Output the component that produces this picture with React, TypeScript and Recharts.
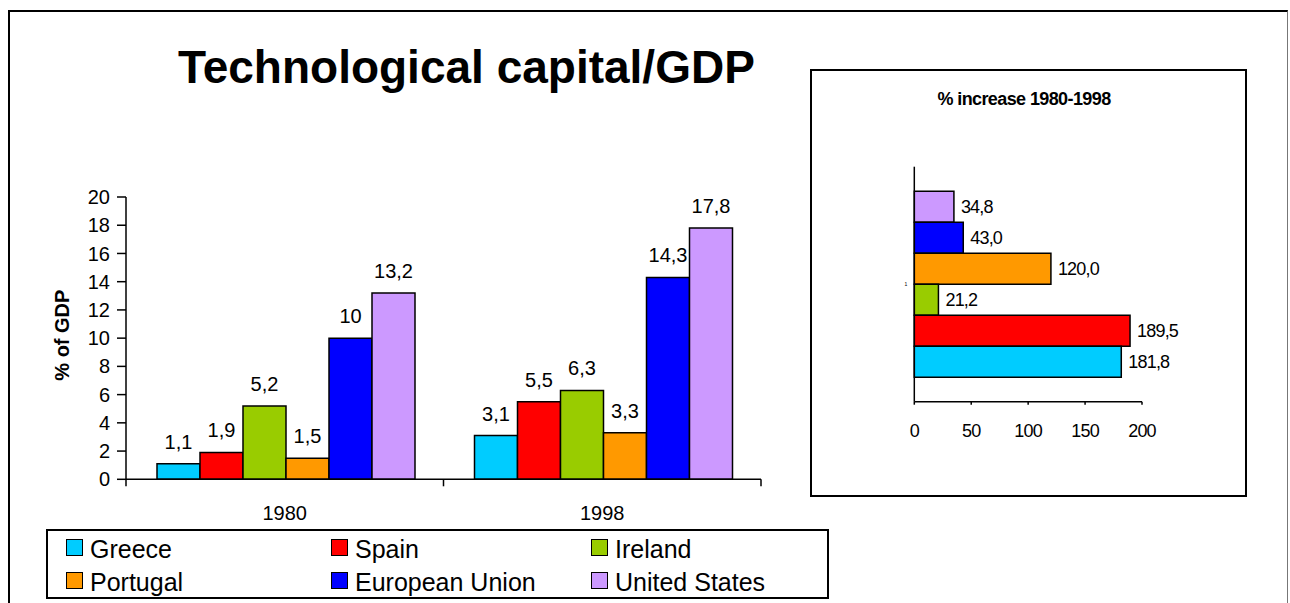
import React from "react";
import { BarChart, Bar, XAxis, YAxis, LabelList, Legend } from "recharts";

// Technological capital as % of GDP, by country and year
const years = ["1980", "1998"];
const greece = [1.1, 3.1];
const spain = [1.9, 5.5];
const ireland = [5.2, 6.3];
const portugal = [1.5, 3.3];
const europeanUnion = [10, 14.3];
const unitedStates = [13.2, 17.8];

// % increase 1980-1998 (as printed in the small panel)
const increaseGreece = 181.8;
const increaseSpain = 189.5;
const increaseIreland = 21.2;
const increasePortugal = 120.0;
const increaseEU = 43.0;
const increaseUS = 34.8;

const yTicks = [0, 2, 4, 6, 8, 10, 12, 14, 16, 18, 20];
const increaseTicks = [0, 50, 100, 150, 200];

const seriesNames = ["Greece", "Spain", "Ireland", "Portugal", "European Union", "United States"];
const seriesKeys = ["greece", "spain", "ireland", "portugal", "eu", "us"] as const;

const COLORS = {
  greece: "#00CCFF",
  spain: "#FF0000",
  ireland: "#99CC00",
  portugal: "#FF9900",
  eu: "#0000FF",
  us: "#CC99FF",
};

const FONT = "'Liberation Sans', Arial, Helvetica, sans-serif";

const mainData = years.map((year, i) => ({
  year,
  greece: greece[i],
  spain: spain[i],
  ireland: ireland[i],
  portugal: portugal[i],
  eu: europeanUnion[i],
  us: unitedStates[i],
}));

const increaseData = [
  {
    cat: "1",
    us: increaseUS,
    eu: increaseEU,
    portugal: increasePortugal,
    ireland: increaseIreland,
    spain: increaseSpain,
    greece: increaseGreece,
  },
];

const MAIN_W = 800;
const MAIN_H = 453;
const MAIN_MARGIN = { top: 47, right: 39, bottom: 83.7, left: 40 };
const Y_AXIS_W = 86;
const HALF_BAND =
  (MAIN_W - MAIN_MARGIN.left - Y_AXIS_W - MAIN_MARGIN.right) / years.length / 2;

const comma = (v: any) => String(v).replace(".", ",");
const comma1 = (v: any) => Number(v).toFixed(1).replace(".", ",");

// category ticks sit between the groups, the year label in the middle
function YearTick({ x, y, payload, index }: any) {
  const last = index === years.length - 1;
  return (
    <g>
      <line x1={x - HALF_BAND} x2={x - HALF_BAND} y1={y} y2={y + 7} stroke="#000" strokeWidth={1.5} />
      {last && (
        <line x1={x + HALF_BAND} x2={x + HALF_BAND} y1={y} y2={y + 7} stroke="#000" strokeWidth={1.5} />
      )}
      <text x={x} y={y + 41} textAnchor="middle" fontSize={20} fontFamily={FONT} fill="#000">
        {payload.value}
      </text>
    </g>
  );
}

function LegendBox({ payload }: any) {
  // keep the series order, not the alphabetical one
  const items = [...(payload || [])].sort(
    (a: any, b: any) => seriesNames.indexOf(a.value) - seriesNames.indexOf(b.value)
  );
  return (
    <div
      style={{
        width: 783,
        height: 70,
        boxSizing: "border-box",
        border: "2px solid #000",
        background: "#fff",
        display: "grid",
        gridTemplateColumns: "265px 260px 220px",
        gridAutoRows: "33px",
        paddingLeft: 18,
        fontFamily: FONT,
        fontSize: 25,
        color: "#000",
      }}
    >
      {items.map((entry: any) => (
        <div key={entry.value} style={{ display: "flex", alignItems: "center" }}>
          <span
            style={{
              display: "inline-block",
              width: 17,
              height: 17,
              boxSizing: "border-box",
              border: "1.5px solid #000",
              background: entry.color,
              marginRight: 7,
            }}
          />
          <span style={{ position: "relative", top: 2, whiteSpace: "nowrap" }}>{entry.value}</span>
        </div>
      ))}
    </div>
  );
}

function MainChart() {
  return (
    <BarChart
      width={MAIN_W}
      height={MAIN_H}
      data={mainData}
      margin={MAIN_MARGIN}
      barCategoryGap={31}
      barGap={0}
    >
      <XAxis
        dataKey="year"
        height={40}
        tickLine={false}
        tickSize={0}
        tickMargin={0}
        axisLine={{ stroke: "#000", strokeWidth: 1.5 }}
        tick={<YearTick />}
        interval={0}
      />
      <YAxis
        width={Y_AXIS_W}
        domain={[0, 20]}
        ticks={yTicks}
        interval={0}
        tickSize={9}
        tickMargin={7}
        axisLine={{ stroke: "#000", strokeWidth: 1.5 }}
        tickLine={{ stroke: "#000", strokeWidth: 1.5 }}
        tick={{ fontSize: 20, fill: "#000", fontFamily: FONT }}
        label={{
          content: (p: any) => {
            const vb = p.viewBox || { x: 0, y: 0, width: 0, height: 0 };
            const cx = vb.x + 22;
            const cy = vb.y + vb.height / 2 - 3;
            return (
              <text
                x={cx}
                y={cy}
                transform={`rotate(-90 ${cx} ${cy})`}
                textAnchor="middle"
                dominantBaseline="central"
                fontSize={20}
                fontWeight="bold"
                fontFamily={FONT}
                fill="#000"
              >
                % of GDP
              </text>
            );
          },
        }}
      />
      <Legend
        layout="horizontal"
        verticalAlign="middle"
        align="center"
        wrapperStyle={{ left: 46, top: 379, width: 783 }}
        content={<LegendBox />}
      />
      {seriesKeys.map((k, i) => (
        <Bar
          key={k}
          dataKey={k}
          name={seriesNames[i]}
          fill={COLORS[k]}
          stroke="#000"
          strokeWidth={1.5}
          isAnimationActive={false}
        >
          <LabelList
            dataKey={k}
            position="top"
            offset={15}
            formatter={comma}
            style={{ fontSize: 20, fill: "#000", fontFamily: FONT }}
          />
        </Bar>
      ))}
    </BarChart>
  );
}

function IncreaseChart() {
  // top-to-bottom order of the horizontal bars
  const order = ["us", "eu", "portugal", "ireland", "spain", "greece"] as const;
  return (
    <BarChart
      width={437}
      height={428}
      layout="vertical"
      data={increaseData}
      margin={{ top: 97.7, right: 105, bottom: 55.3, left: 94.3 }}
      barCategoryGap={24.5}
      barGap={0}
    >
      <XAxis
        type="number"
        domain={[0, 200]}
        ticks={increaseTicks}
        interval={0}
        height={40}
        tickSize={3}
        tickMargin={20}
        axisLine={{ stroke: "#000", strokeWidth: 1.5 }}
        tickLine={{ stroke: "#000", strokeWidth: 1.5 }}
        tick={{ fontSize: 18, fill: "#000", fontFamily: FONT, letterSpacing: -0.8 }}
      />
      <YAxis
        type="category"
        dataKey="cat"
        width={10}
        tickLine={false}
        tickMargin={1}
        axisLine={{ stroke: "#000", strokeWidth: 1.5 }}
        tick={{ fontSize: 5, fill: "#000", fontFamily: FONT }}
      />
      {order.map((k) => (
        <Bar
          key={k}
          dataKey={k}
          fill={COLORS[k]}
          stroke="#000"
          strokeWidth={1.5}
          isAnimationActive={false}
        >
          <LabelList
            dataKey={k}
            position="right"
            offset={7}
            formatter={comma1}
            style={{ fontSize: 18, fill: "#000", fontFamily: FONT, letterSpacing: -0.8 }}
          />
        </Bar>
      ))}
    </BarChart>
  );
}

export default function App() {
  return (
    <div
      style={{
        position: "absolute",
        left: 0,
        top: 0,
        width: 1290,
        height: 603,
        overflow: "hidden",
        background: "#fff",
        fontFamily: FONT,
      }}
    >
      {/* outer frame, open at the bottom */}
      <div
        style={{
          position: "absolute",
          left: 8,
          top: 10,
          width: 1280,
          height: 610,
          boxSizing: "border-box",
          borderTop: "2px solid #000",
          borderLeft: "2px solid #000",
          borderRight: "1.5px solid #777",
        }}
      />
      <div
        style={{
          position: "absolute",
          left: 178,
          top: 44,
          fontSize: 46,
          lineHeight: "46px",
          fontWeight: "bold",
          whiteSpace: "nowrap",
          color: "#000",
        }}
      >
        Technological capital/GDP
      </div>
      <div style={{ position: "absolute", left: 0, top: 150 }}>
        <MainChart />
      </div>
      <div
        style={{
          position: "absolute",
          left: 810,
          top: 69,
          width: 437,
          height: 428,
          boxSizing: "border-box",
          border: "2px solid #000",
        }}
      />
      <div
        style={{
          position: "absolute",
          left: 810,
          top: 90,
          width: 428,
          textAlign: "center",
          fontSize: 18,
          lineHeight: "18px",
          fontWeight: "bold",
          letterSpacing: -0.6,
          color: "#000",
        }}
      >
        % increase 1980-1998
      </div>
      <div style={{ position: "absolute", left: 810, top: 69 }}>
        <IncreaseChart />
      </div>
    </div>
  );
}
